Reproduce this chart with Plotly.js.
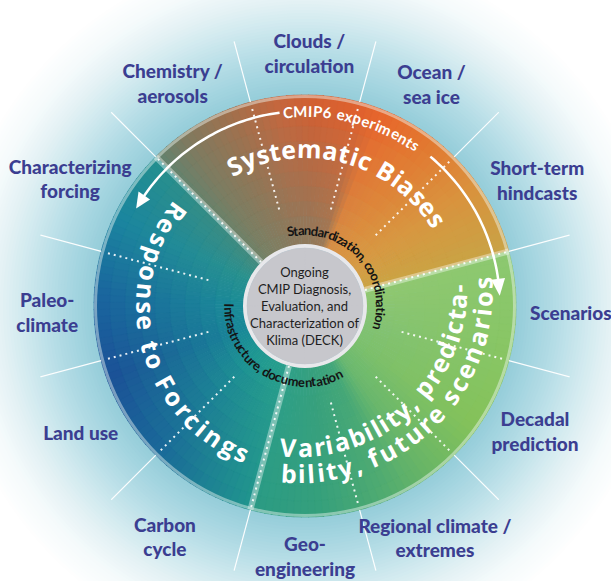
<!DOCTYPE html>
<html><head><meta charset="utf-8">
<script src="https://cdn.plot.ly/plotly-3.0.1.min.js"></script>
<style>html,body{margin:0;padding:0;background:#fff;}#chart{width:611px;height:581px;}</style>
</head><body><div id="chart"></div>
<script>
// ================= DATA =================
const topicLabels = ['Scenarios','Short-term<br>hindcasts','Ocean /<br>sea ice','Clouds /<br>circulation','Chemistry /<br>aerosols','Characterizing<br>forcing','Paleo-<br>climate','Land use','Carbon<br>cycle','Geo-<br>engineering','Regional climate /<br>extremes','Decadal<br>prediction'];
const topicAngles = [0,30,60,90,120,150,180,210,240,270,300,330];
const themeLines = [['Systematic Biases'],['Response to Forcings'],['Variability, predicta-','bility, future scenarios']];
const themeFrom = [15,135,255];
const themeTo = [135,255,375];
const dividerAngles = [15,45,75,105,135,165,195,225,255,285,315,345];
const ringNotes = ['CMIP6 experiments','Standardization, coordination','Infrastructure, documentation'];
const centerLines = ['Ongoing','CMIP Diagnosis,','Evaluation, and','Characterization of','Klima (DECK)'];

// ================= LAYOUT / STYLE =================
const W=611,H=581,CX=305,CY=306,RP=274;
const R_IN=62,R_OUT=211;
const labelR=[266,263,253,250,257,266,258,259,272,253,268,263];
const labelDT=[-2,-2,0,-1,1,2,2,0,-1,0,-1,1];
const LABEL_COLOR='#3b3e91';
const LABELF='Lato, "DejaVu Sans Condensed", sans-serif';
const BOLDF='"Open Sans", "Noto Sans", sans-serif';
// colour stops per theme: [angle, outerColour, innerColour]
const themeStops=[
 [[15,'#c8a446','#caa442'],[35,'#d9913d','#d69c44'],[55,'#e4742e','#d99442'],[68,'#e8652b','#d48e46'],[74,'#e4602b','#9a7a58'],[88,'#d65e30','#8c7a5e'],[98,'#c8663c','#8a7a5e'],[110,'#a66e4a','#837c60'],[126,'#7e7a60','#7a8064'],[135,'#62836f','#6c8268']],
 [[135,'#22908f','#4a8a7a'],[155,'#1a84a0','#2a928e'],[178,'#1a629e','#1b8e98'],[200,'#1b4f97','#1a8a98'],[225,'#1a6699','#1f9a92'],[255,'#1f958e','#2aa08a']],
 [[255,'#2a9a84','#2ea088'],[275,'#36a07c','#36a07e'],[295,'#55ad6e','#42a67a'],[305,'#66b466','#6ab870'],[325,'#84c259','#7cc06e'],[345,'#88c562','#82c274'],[375,'#8cc870','#92c870']]
];
const haloStops=[[211,'#94ccd9'],[230,'#a2d4df'],[255,'#b6dde6'],[280,'#cde8ee'],[305,'#e3f1f4'],[330,'#f4fafb'],[360,'#ffffff']];

function hex2rgb(h){return [parseInt(h.slice(1,3),16),parseInt(h.slice(3,5),16),parseInt(h.slice(5,7),16)];}
function mix(a,b,t){const A=hex2rgb(a),B=hex2rgb(b);return 'rgb('+A.map((v,i)=>Math.round(v+(B[i]-v)*t)).join(',')+')';}
function mixHex(a,b,t){const A=hex2rgb(a),B=hex2rgb(b);return '#'+A.map((v,i)=>Math.round(v+(B[i]-v)*t).toString(16).padStart(2,'0')).join('');}
function stopAt(stops,a,idx){
  for(let i=0;i<stops.length-1;i++){
    if(a>=stops[i][0]&&a<=stops[i+1][0]){const t=(a-stops[i][0])/(stops[i+1][0]-stops[i][0]);return mixHex(stops[i][idx],stops[i+1][idx],t);}
  }
  return stops[stops.length-1][idx];
}

const traces=[];
// ---- gradient ring, drawn as many thin polar bars ----
{
  const th=[],rr=[],bb=[],cc=[];
  const dA=2, dR=15;
  for(let s=0;s<3;s++){
    for(let a=themeFrom[s]+dA/2;a<themeTo[s];a+=dA){
      const outer=stopAt(themeStops[s],a,1), inner=stopAt(themeStops[s],a,2);
      for(let r0=R_IN-2;r0<R_OUT;r0+=dR){
        const r1=Math.min(r0+dR,R_OUT);
        const t=((r0+r1)/2-R_IN)/(R_OUT-R_IN);
        th.push(a%360);bb.push(r0);rr.push(r1-r0+(r1<R_OUT?1:0));cc.push(mix(inner,outer,Math.max(0,Math.min(1,t))));
      }
    }
  }
  traces.push({type:'barpolar',theta:th,r:rr,base:bb,width:th.map(()=>dA+0.25),
    marker:{color:cc,line:{color:cc,width:0.3}},hoverinfo:'skip'});
}
// outer pale rim
traces.push({type:'barpolar',theta:[45,135,225,315],r:[3,3,3,3],base:[R_OUT-3,R_OUT-3,R_OUT-3,R_OUT-3],width:[90,90,90,90],
  marker:{color:'rgba(240,248,244,0.45)',line:{width:0}},hoverinfo:'skip'});
// centre disc + rim
traces.push({type:'barpolar',theta:[45,135,225,315],r:[4,4,4,4],base:[58,58,58,58],width:[90.5,90.5,90.5,90.5],
  marker:{color:'#e8e8eb',line:{width:0}},hoverinfo:'skip'});
traces.push({type:'barpolar',theta:[45,135,225,315],r:[58,58,58,58],base:[0,0,0,0],width:[90.5,90.5,90.5,90.5],
  marker:{color:'#c7c7cc',line:{color:'#c7c7cc',width:0.5}},hoverinfo:'skip'});

// ---- divider lines ----
const majors=themeFrom;
const minors=dividerAngles.filter(a=>majors.indexOf(a)<0);
function segs(angles,r0,r1){const r=[],t=[];angles.forEach(a=>{r.push(r0,r1,null);t.push(a,a,null);});return {r,t};}
{
  const s=segs(majors,R_IN,R_OUT);
  traces.push({type:'scatterpolar',mode:'lines',r:s.r,theta:s.t,line:{color:'rgba(255,255,255,0.38)',width:6},hoverinfo:'skip',connectgaps:false});
  traces.push({type:'scatterpolar',mode:'lines',r:s.r,theta:s.t,line:{color:'rgba(255,255,255,0.9)',width:2,dash:'2px,4px'},hoverinfo:'skip',connectgaps:false});
  const m=segs(minors,100,R_OUT-3);
  traces.push({type:'scatterpolar',mode:'lines',r:m.r,theta:m.t,line:{color:'rgba(255,255,255,0.9)',width:2,dash:'2px,4px'},hoverinfo:'skip',connectgaps:false});
  const o=segs(dividerAngles,R_OUT,308);
  traces.push({type:'scatterpolar',mode:'lines',r:o.r,theta:o.t,line:{color:'rgba(255,255,255,0.95)',width:1.2},hoverinfo:'skip',connectgaps:false,cliponaxis:false});
}
// ---- CMIP6 arrows ----
function arc(a0,a1,r){const t=[],rr=[];const n=Math.ceil(Math.abs(a1-a0));for(let i=0;i<=n;i++){t.push(a0+(a1-a0)*i/n);rr.push(r);}return {t,rr};}
{
  const RA=195;
  const L=arc(97.5,146,RA), Rr=arc(50,7.5,RA);
  traces.push({type:'scatterpolar',mode:'lines',r:L.rr,theta:L.t,line:{color:'#fff',width:2.5},hoverinfo:'skip'});
  traces.push({type:'scatterpolar',mode:'lines',r:Rr.rr,theta:Rr.t,line:{color:'#fff',width:2.5},hoverinfo:'skip'});
  traces.push({type:'scatterpolar',mode:'lines',r:[RA,RA-7,RA+7,RA],theta:[150,145.5,145.5,150],fill:'toself',fillcolor:'#fff',line:{width:0,color:'#fff'},hoverinfo:'skip'});
  traces.push({type:'scatterpolar',mode:'lines',r:[RA,RA-7,RA+7,RA],theta:[3,8,8,3],fill:'toself',fillcolor:'#fff',line:{width:0,color:'#fff'},hoverinfo:'skip'});
}
// ---- outer topic labels ----
traces.push({type:'scatterpolar',mode:'text',r:labelR,theta:topicAngles.map((a,i)=>a+labelDT[i]),text:topicLabels,
  textposition:'middle center',textfont:{family:LABELF,size:19,color:LABEL_COLOR,weight:900},hoverinfo:'skip',cliponaxis:false});

// ---- text on arcs (per-character annotations) ----
const cvs=document.createElement('canvas');const ctx=cvs.getContext('2d');
function arcText(str,o){
  ctx.font=(o.weight||'normal')+' '+o.size+'px '+o.family;
  const chars=[...str];
  const ws=chars.map(c=>ctx.measureText(c).width);
  const nat=ws.reduce((a,b)=>a+b,0);
  const L=o.span*Math.PI/180*o.r;
  const extra=(L-nat)/(chars.length-1);
  const out=[];let s=0;
  chars.forEach((ch,i)=>{
    const sc=s+ws[i]/2+i*extra; s+=ws[i];
    const off=(L/2-sc)/o.r*180/Math.PI;
    const th=o.dir==='cw'?o.mid+off:o.mid-off;
    if(ch===' ')return;
    const t=th*Math.PI/180;
    const x=o.cx+o.r*Math.cos(t), y=o.cy-o.r*Math.sin(t);
    let ang=o.dir==='cw'?90-th:270-th;
    ang=((ang+180)%360+360)%360-180;
    out.push({xref:'paper',yref:'paper',x:x/W,y:1-y/H,text:ch,showarrow:false,textangle:ang,
      xanchor:'center',yanchor:'middle',borderpad:0,
      font:{family:o.family,size:o.size,color:o.color,weight:o.weight||'normal'}});
  });
  return out;
}
let anns=[];
anns=anns.concat(arcText(ringNotes[0],{cx:CX,cy:CY,r:195,mid:75.5,span:42,dir:'cw',family:LABELF,size:15,color:'#fff',weight:'bold'}));
anns=anns.concat(arcText(themeLines[0][0],{cx:CX,cy:CY,r:158,mid:75,span:88,dir:'cw',family:BOLDF,size:25,color:'#fff',weight:'bold'}));
anns=anns.concat(arcText(themeLines[1][0],{cx:CX,cy:CY,r:159,mid:195,span:108,dir:'ccw',family:BOLDF,size:25,color:'#fff',weight:'bold'}));
anns=anns.concat(arcText(themeLines[2][0],{cx:300,cy:290,r:157,mid:312.5,span:99,dir:'ccw',family:BOLDF,size:25,color:'#fff',weight:'bold'}));
anns=anns.concat(arcText(themeLines[2][1],{cx:300,cy:290,r:183,mid:314,span:100,dir:'ccw',family:BOLDF,size:25,color:'#fff',weight:'bold'}));
anns=anns.concat(arcText(ringNotes[1],{cx:CX,cy:CY,r:76,mid:43,span:122,dir:'cw',family:LABELF,size:13,color:'#141414',weight:'bold'}));
anns=anns.concat(arcText(ringNotes[2],{cx:CX,cy:CY,r:76,mid:238.5,span:121,dir:'ccw',family:LABELF,size:13,color:'#141414',weight:'bold'}));
anns.push({xref:'paper',yref:'paper',x:(CX-1)/W,y:1-(CY)/H,text:centerLines.join('<br>'),showarrow:false,align:'center',
  xanchor:'center',yanchor:'middle',font:{family:LABELF,size:13,color:'#1e1e1e'}});

// ---- background halo ----
const shapes=[];
for(let r=380;r>=R_OUT;r-=3){
  let col='#ffffff';
  for(let i=0;i<haloStops.length-1;i++){if(r>=haloStops[i][0]&&r<=haloStops[i+1][0]){col=mixHex(haloStops[i][1],haloStops[i+1][1],(r-haloStops[i][0])/(haloStops[i+1][0]-haloStops[i][0]));break;}}
  shapes.push({type:'circle',xref:'paper',yref:'paper',x0:(CX-r)/W,x1:(CX+r)/W,y0:1-(CY+r)/H,y1:1-(CY-r)/H,
    fillcolor:col,line:{width:0},layer:'below'});
}

const layout={width:W,height:H,margin:{l:0,r:0,t:0,b:0},paper_bgcolor:'#ffffff',showlegend:false,hovermode:false,
  shapes:shapes,annotations:anns,
  polar:{domain:{x:[(CX-RP)/W,(CX+RP)/W],y:[1-(CY+RP)/H,1-(CY-RP)/H]},bgcolor:'rgba(0,0,0,0)',barmode:'overlay',
    radialaxis:{visible:false,range:[0,RP],autorange:false},
    angularaxis:{visible:false,rotation:0,direction:'counterclockwise'}}};
Plotly.newPlot('chart',traces,layout,{staticPlot:true,displayModeBar:false});
</script></body></html>
